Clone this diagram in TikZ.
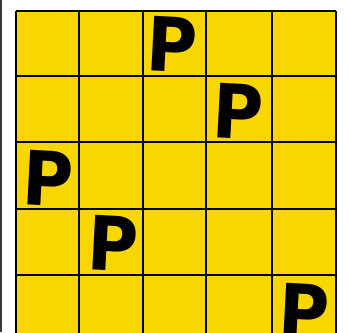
\documentclass[tikz,border=0pt]{standalone}
\usepackage{fontspec}
\newfontfamily\pfont{DejaVu Sans}
\definecolor{cellyellow}{RGB}{250,214,0}
\definecolor{edgegray}{RGB}{60,60,60}
\begin{document}
\begin{tikzpicture}[x=1pt,y=-1pt,
  gridline/.style={line width=2pt,black},
  pletter/.style={font=\pfont\bfseries\fontsize{75}{75}\selectfont,inner sep=0pt,rotate=-3,xscale=0.92}]
\useasboundingbox (0,0) rectangle (348,332);
\fill[white] (0,0) rectangle (348,332);
\draw[edgegray,line width=2pt] (1,0) -- (1,332);
\begin{scope}
\clip (0,0) rectangle (348,332);
\fill[cellyellow] (16,11) rectangle (336,341);
\foreach \x in {16,79,143,206,272,336} \draw[gridline] (\x,11) -- (\x,341);
\foreach \y in {11,76,142,209,275} \draw[gridline] (16,\y) -- (336,\y);
\node[pletter] (p1) at (172,45) {P};
\node[pletter] (p2) at (238,112) {P};
\node[pletter] (p3) at (48,179) {P};
\node[pletter] (p4) at (113,244) {P};
\node[pletter] (p5) at (304,312) {P};
\end{scope}
\end{tikzpicture}
\end{document}
